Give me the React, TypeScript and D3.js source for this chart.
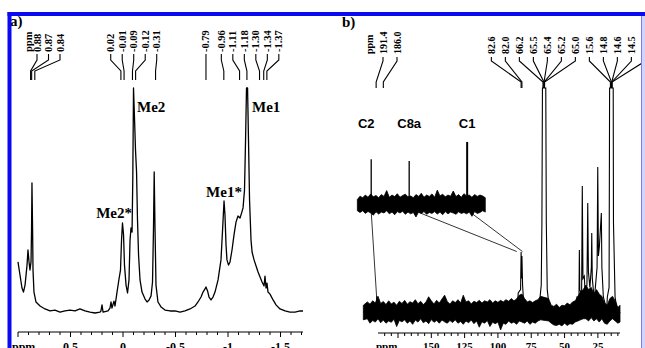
import React from "react";
import * as d3 from "d3";

// ---- panel a) 1H spectrum: [ppm, relative intensity]
const protonTrace: [number, number][] = [
  [1.0, 0.227], [0.981, 0.169], [0.962, 0.111], [0.948, 0.093], [0.933, 0.124], [0.914, 0.213],
  [0.905, 0.28], [0.895, 0.227], [0.886, 0.191], [0.876, 0.227], [0.871, 0.369], [0.867, 0.578],
  [0.861, 0.369], [0.857, 0.191], [0.848, 0.093], [0.829, 0.049], [0.79, 0.031], [0.743, 0.018],
  [0.695, 0.009], [0.648, 0.013], [0.6, 0.004], [0.552, 0.009], [0.505, 0.013], [0.457, 0.009],
  [0.41, 0.018], [0.362, 0.009], [0.314, 0.004], [0.267, 0.0], [0.219, 0.004], [0.21, 0.009],
  [0.2, 0.036], [0.19, 0.004], [0.143, 0.009], [0.124, 0.022], [0.114, 0.049], [0.105, 0.022],
  [0.086, 0.053], [0.076, 0.031], [0.057, 0.093], [0.038, 0.151], [0.024, 0.191], [0.014, 0.324],
  [0.005, 0.4], [-0.005, 0.347], [-0.014, 0.213], [-0.029, 0.124], [-0.043, 0.089], [-0.057, 0.147],
  [-0.067, 0.324], [-0.076, 0.378], [-0.086, 0.36], [-0.093, 0.591], [-0.1, 1.0], [-0.11, 0.858],
  [-0.119, 0.724], [-0.129, 0.627], [-0.138, 0.413], [-0.148, 0.258], [-0.162, 0.147], [-0.181, 0.093],
  [-0.21, 0.062], [-0.229, 0.049], [-0.248, 0.058], [-0.267, 0.076], [-0.281, 0.138], [-0.29, 0.369],
  [-0.297, 0.627], [-0.305, 0.369], [-0.314, 0.124], [-0.333, 0.049], [-0.362, 0.027], [-0.4, 0.013],
  [-0.448, 0.009], [-0.495, 0.009], [-0.543, 0.004], [-0.59, 0.009], [-0.638, 0.018], [-0.686, 0.031],
  [-0.714, 0.049], [-0.743, 0.071], [-0.762, 0.093], [-0.781, 0.107], [-0.79, 0.116], [-0.805, 0.098],
  [-0.819, 0.071], [-0.838, 0.058], [-0.857, 0.071], [-0.876, 0.093], [-0.905, 0.147], [-0.933, 0.236],
  [-0.948, 0.369], [-0.962, 0.498], [-0.971, 0.436], [-0.981, 0.302], [-0.99, 0.236], [-1.005, 0.213],
  [-1.019, 0.227], [-1.038, 0.28], [-1.057, 0.347], [-1.076, 0.404], [-1.095, 0.431], [-1.114, 0.422],
  [-1.129, 0.444], [-1.143, 0.467], [-1.157, 0.547], [-1.167, 0.769], [-1.176, 1.0], [-1.186, 1.0],
  [-1.195, 0.769], [-1.205, 0.502], [-1.219, 0.324], [-1.229, 0.271], [-1.248, 0.236], [-1.267, 0.209],
  [-1.286, 0.182], [-1.305, 0.16], [-1.324, 0.138], [-1.343, 0.12], [-1.352, 0.164], [-1.362, 0.111],
  [-1.371, 0.133], [-1.381, 0.093], [-1.4, 0.084], [-1.429, 0.058], [-1.457, 0.036], [-1.495, 0.018],
  [-1.543, 0.009], [-1.59, 0.004], [-1.638, 0.004], [-1.686, 0.009], [-1.714, 0.009],
];
const protonPeakLabels = ["0.88", "0.87", "0.84", "0.02", "-0.01", "-0.09", "-0.12", "-0.31",
  "-0.79", "-0.96", "-1.11", "-1.18", "-1.30", "-1.34", "-1.37"];
const protonTickLabels = ["0.5", "0", "-0.5", "-1", "-1.5"];

// ---- panel b) 13C spectrum
// noise band of the full spectrum: [ppm, upper edge, lower edge]
const carbonNoise: [number, number, number][] = [
  [201, 0.03, -0.035], [198, 0.045, -0.03], [196, 0.035, -0.05], [194, 0.05, -0.038], [192, 0.04, -0.045],
  [190, 0.07, -0.03], [188, 0.038, -0.048], [186, 0.047, -0.036], [184, 0.033, -0.05], [182, 0.05, -0.04],
  [180, 0.036, -0.046], [178, 0.044, -0.032], [176, 0.03, -0.065], [174, 0.048, -0.038], [172, 0.038, -0.044],
  [170, 0.052, -0.035], [168, 0.035, -0.05], [166, 0.046, -0.04], [164, 0.04, -0.055], [162, 0.055, -0.036],
  [160, 0.037, -0.045], [158, 0.048, -0.03], [156, 0.033, -0.048], [154, 0.045, -0.04], [152, 0.068, -0.052],
  [150, 0.05, -0.034], [148, 0.036, -0.046], [146, 0.052, -0.038], [144, 0.04, -0.05], [142, 0.058, -0.036],
  [140, 0.075, -0.044], [138, 0.047, -0.05], [136, 0.035, -0.038], [134, 0.05, -0.047], [132, 0.042, -0.035],
  [130, 0.055, -0.05], [128, 0.04, -0.042], [126, 0.075, -0.055], [124, 0.045, -0.04], [122, 0.05, -0.048],
  [120, 0.036, -0.036], [118, 0.048, -0.052], [116, 0.042, -0.04], [114, 0.052, -0.068], [112, 0.04, -0.044],
  [110, 0.05, -0.05], [108, 0.045, -0.038], [106, 0.055, -0.065], [104, 0.04, -0.046], [102, 0.05, -0.052],
  [100, 0.043, -0.045], [98, 0.052, -0.08], [96, 0.045, -0.05], [94, 0.055, -0.055], [92, 0.048, -0.04],
  [90, 0.06, -0.05], [88, 0.05, -0.045], [86, 0.058, -0.055], [84, 0.075, -0.04], [82, 0.08, -0.045],
  [80, 0.06, -0.05], [78, 0.045, -0.04], [76, 0.05, -0.055], [74, 0.042, -0.045], [72, 0.05, -0.05],
  [70, 0.055, -0.04], [68, 0.07, -0.035], [62, 0.06, -0.04], [60, 0.03, -0.05], [58, 0.025, -0.058],
  [56, 0.035, -0.06], [54, 0.02, -0.055], [52, 0.03, -0.062], [50, 0.028, -0.05], [48, 0.04, -0.06],
  [46, 0.032, -0.052], [44, 0.045, -0.055], [42, 0.05, -0.045], [40, 0.07, -0.04], [38, 0.09, -0.035],
  [36, 0.1, -0.03], [34, 0.12, -0.03], [32, 0.1, -0.04], [30, 0.11, -0.025], [28, 0.08, -0.04],
  [26, 0.1, -0.03], [24, 0.08, -0.045], [22, 0.07, -0.03], [20, 0.04, -0.05], [18, 0.03, -0.055],
  [16, 0.06, -0.04], [14, 0.07, -0.03], [12, 0.05, -0.04], [10, 0.02, -0.05], [8.4, 0.03, -0.045],
];
// peaks of the full spectrum: [ppm, intensity]
const carbonTrace: [number, number][] = [
  [201, 0], [191.3, 0], [190.9, 0.07], [190.5, 0], [85.5, 0], [84.8, 0.085], [83.0, 0.1], [82.6, 0.268],
  [82.3, 0.15], [82.0, 0.25], [81.5, 0.12], [80.6, 0.03], [79, 0], [69, 0.03], [67.5, 0.12], [67, 0.4],
  [66.6, 1.0], [64.1, 1.0], [63.7, 0.4], [63, 0.1], [61.5, 0.02], [60, 0], [41.5, 0.02], [40.6, 0.07],
  [39.2, 0.04], [38.9, 0.277], [38.6, 0.1], [37.2, 0.08], [36.7, 0.5625], [36.2, 0.15], [35.2, 0.16],
  [34.6, 0.09], [33.2, 0.12], [32.6, 0.487], [32.1, 0.18], [31, 0.11], [29.9, 0.2], [29.6, 0.353],
  [29.2, 0.15], [27.7, 0.054], [25.6, 0.2], [25.1, 0.647], [24.6, 0.25], [23.9, 0.29], [22.4, 0.442],
  [22, 0.2], [20.9, 0.067], [18.4, 0.01], [17.9, 0.067], [16.6, 0.11], [16.2, 1.0], [13.5, 1.0],
  [13.3, 0.4], [12.1, 0.067], [9.7, -0.02], [8.4, 0],
];
// vertically expanded inset (same ppm scale)
const insetNoise: [number, number, number][] = [
  [205.5, 0.02, -0.03], [203.5, 0.035, -0.038], [201.5, 0.028, -0.03], [199.5, 0.04, -0.042], [197.5, 0.03, -0.033],
  [195.5, 0.045, -0.04], [193.5, 0.032, -0.05], [191.5, 0.038, -0.035], [189.5, 0.028, -0.045], [187.5, 0.042, -0.036],
  [185.5, 0.034, -0.04], [183.5, 0.06, -0.03], [181.5, 0.03, -0.044], [179.5, 0.04, -0.036], [177.5, 0.033, -0.048],
  [175.5, 0.046, -0.034], [173.5, 0.03, -0.04], [171.5, 0.038, -0.032], [169.5, 0.044, -0.046], [167.5, 0.032, -0.036],
  [165.5, 0.036, -0.044], [163.5, 0.028, -0.038], [161.5, 0.042, -0.058], [159.5, 0.034, -0.035], [157.5, 0.048, -0.042],
  [155.5, 0.03, -0.034], [153.5, 0.04, -0.046], [151.5, 0.034, -0.038], [149.5, 0.045, -0.042], [147.5, 0.03, -0.034],
  [145.5, 0.062, -0.045], [143.5, 0.036, -0.036], [141.5, 0.044, -0.048], [139.5, 0.032, -0.034], [137.5, 0.04, -0.044],
  [135.5, 0.035, -0.036], [133.5, 0.058, -0.04], [131.5, 0.033, -0.046], [129.5, 0.042, -0.035], [127.5, 0.03, -0.042],
  [125.5, 0.046, -0.038], [123.5, 0.036, -0.044], [121.5, 0.04, -0.036], [119.5, 0.03, -0.055], [117.5, 0.042, -0.034],
  [115.5, 0.034, -0.042], [113.5, 0.04, -0.038], [111.5, 0.036, -0.03], [109.5, 0.028, -0.036],
];
const insetPeaks = [
  { name: "C2", ppm: 195.1, height: 0.2 },
  { name: "C8a", ppm: 166.6, height: 0.192 },
  { name: "C1", ppm: 123.1, height: 0.277 },
];
// connector lines: inset ppm -> full-spectrum [ppm, intensity]
const insetLinks: [number, number, number][] = [
  [195.1, 190.9, 0.054],
  [160.9, 85.9, 0.27],
  [121.4, 81.6, 0.27],
];
const carbonPeakLabels = ["191.4", "186.0", "82.6", "82.0", "66.2", "65.5", "65.4", "65.2", "65.0",
  "15.6", "14.8", "14.6", "14.5", "14.4"];
const carbonTickLabels = ["150", "125", "100", "75", "50", "25"];

const xA = d3.scaleLinear().domain([1.0, -1.714]).range([18, 303]);
const yA = d3.scaleLinear().domain([0, 1]).range([313, 88]);
const xB = d3.scaleLinear().domain([190, 8.4]).range([378, 620]);
const yB = d3.scaleLinear().domain([0, 1]).range([312, 88]);
const INSET_DY = -108;

const serif = "'Liberation Serif', 'Times New Roman', serif";
const sans = "'Liberation Sans', Arial, sans-serif";

// spread labels so they don't overlap, keeping clusters centred on their peaks
function spread(targets: number[], gap: number, minStart: number) {
  let cl = targets.map((t) => ({ sum: t, n: 1, start: t }));
  let changed = true;
  while (changed) {
    changed = false;
    if (cl[0].start < minStart) cl[0].start = minStart;
    for (let i = 1; i < cl.length; i++) {
      const p = cl[i - 1], c = cl[i];
      if (p.start + p.n * gap > c.start + 1e-6) {
        const n = p.n + c.n, sum = p.sum + c.sum;
        let start = sum / n - ((n - 1) * gap) / 2;
        if (i === 1 && start < minStart) start = minStart;
        cl.splice(i - 1, 2, { sum, n, start });
        changed = true;
        break;
      }
    }
  }
  const out: number[] = [];
  cl.forEach((c) => { for (let k = 0; k < c.n; k++) out.push(c.start + k * gap); });
  return out;
}

const PeakLabels = ({ labels, x, gap, headerX, minStart, fontSize, textBottom, ys }: any) => {
  const targets = labels.map((l: string) => x(parseFloat(l)));
  const pos = spread(targets, gap, minStart);
  const [y0, y1, y2, y3] = ys;
  return (
    <g fontFamily={serif} fontWeight="bold" fontSize={fontSize}>
      <text transform={`translate(${headerX + 3.5},${textBottom}) rotate(-90)`}>ppm</text>
      {labels.map((l: string, i: number) => (
        <g key={l + i}>
          <text transform={`translate(${pos[i] + 3.5},${textBottom}) rotate(-90)`}>{l}</text>
          <path
            d={`M${pos[i]},${y0}V${y1}L${targets[i]},${y2}V${y3}`}
            fill="none" stroke="#000" strokeWidth={1.1}
          />
        </g>
      ))}
    </g>
  );
};

export default function App() {
  const lineA = d3.line<[number, number]>().x((d) => xA(d[0])).y((d) => yA(d[1]));
  const lineB = d3.line<[number, number]>().x((d) => xB(d[0])).y((d) => yB(d[1]));
  const bandB = d3.area<[number, number, number]>()
    .x((d) => xB(d[0])).y0((d) => yB(d[2])).y1((d) => yB(d[1]));

  const ticksA = d3.range(-17, 11).map((i) => i / 10);
  const ticksB = d3.range(10, 190, 5);
  const axisYA = 332;
  const axisYB = 333;

  return (
    <svg width={645} height={348} style={{ position: "absolute", left: 0, top: 0, background: "#fff" }}>
      <rect width={645} height={348} fill="#fff" />

      {/* ---------- a) ---------- */}
      <text x={10} y={25.5} fontFamily={serif} fontWeight="bold" fontSize={15}>a)</text>
      <PeakLabels labels={protonPeakLabels} x={xA} gap={11.5} headerX={28} minStart={37}
        fontSize={10.5} textBottom={52} ys={[54, 60, 71, 80]} />
      <path d={lineA(protonTrace) ?? ""} fill="none" stroke="#000" strokeWidth={1.3} strokeLinejoin="round" />
      <g fontFamily={serif} fontWeight="bold" fontSize={15}>
        <text x={xA(-0.1) + 3.5} y={112}>Me2</text>
        <text x={xA(-1.181) + 5} y={112}>Me1</text>
        <text x={xA(0.005) + 9.5} y={218} textAnchor="end">Me2*</text>
        <text x={xA(-0.962)} y={197} textAnchor="middle">Me1*</text>
      </g>
      <line x1={xA(1.0)} x2={xA(-1.714)} y1={axisYA} y2={axisYA} stroke="#000" strokeWidth={1.2} />
      {ticksA.map((t) => {
        const major = Math.abs(t * 2 - Math.round(t * 2)) < 1e-6;
        return <line key={t} x1={xA(t)} x2={xA(t)} y1={axisYA} y2={axisYA + (major ? 5 : 3)} stroke="#000" strokeWidth={1} />;
      })}
      <g fontFamily={serif} fontWeight="bold" fontSize={12}>
        <text x={12} y={350.5}>ppm</text>
        {protonTickLabels.map((l) => (
          <text key={l} x={xA(parseFloat(l))} y={350.5} textAnchor="middle">{l}</text>
        ))}
      </g>

      {/* ---------- b) ---------- */}
      <text x={342} y={27} fontFamily={serif} fontWeight="bold" fontSize={15}>b)</text>
      <PeakLabels labels={carbonPeakLabels} x={xB} gap={14} headerX={369} minStart={383}
        fontSize={10} textBottom={54} ys={[57, 61, 82, 88]} />

      <path d={bandB(carbonNoise) ?? ""} fill="#000" stroke="#000" strokeWidth={0.8} />
      <path d={lineB(carbonTrace) ?? ""} fill="none" stroke="#000" strokeWidth={1.1} />

      <g transform={`translate(0,${INSET_DY})`}>
        <path d={bandB(insetNoise) ?? ""} fill="#000" stroke="#000" strokeWidth={0.8} />
        {insetPeaks.map((p) => (
          <line key={p.name} x1={xB(p.ppm)} x2={xB(p.ppm)} y1={yB(0)} y2={yB(p.height)}
            stroke="#000" strokeWidth={p.name === "C1" ? 2 : 1.3} />
        ))}
      </g>
      {insetLinks.map(([a, b, h], i) => (
        <line key={i} x1={xB(a)} y1={yB(-0.034) + INSET_DY} x2={xB(b)} y2={yB(h)} stroke="#000" strokeWidth={0.8} />
      ))}
      <g fontFamily={sans} fontWeight="bold" fontSize={13}>
        {insetPeaks.map((p) => (
          <text key={p.name} x={xB(p.ppm) - (p.name === "C2" ? 5 : 0)} y={128} textAnchor="middle">{p.name}</text>
        ))}
      </g>

      <line x1={xB(190)} x2={xB(8.4)} y1={axisYB} y2={axisYB} stroke="#000" strokeWidth={1.2} />
      {ticksB.map((t) => (
        <line key={t} x1={xB(t)} x2={xB(t)} y1={axisYB} y2={axisYB + (t % 25 === 0 ? 5 : 3)} stroke="#000" strokeWidth={1} />
      ))}
      <g fontFamily={serif} fontWeight="bold" fontSize={11}>
        <text x={376} y={350}>ppm</text>
        {carbonTickLabels.map((l) => (
          <text key={l} x={xB(parseFloat(l))} y={350} textAnchor="middle">{l}</text>
        ))}
      </g>

      {/* ---------- blue frame ---------- */}
      <rect x={641} y={16} width={4} height={332} fill="#d4d4fa" />
      <line x1={641.5} x2={641.5} y1={16} y2={348} stroke="#7c7cf0" strokeWidth={1} />
      <rect x={7.5} y={12} width={4} height={336} fill="#0a0af2" />
      <rect x={7.5} y={12} width={637.5} height={4} fill="#0a0af2" />
    </svg>
  );
}
